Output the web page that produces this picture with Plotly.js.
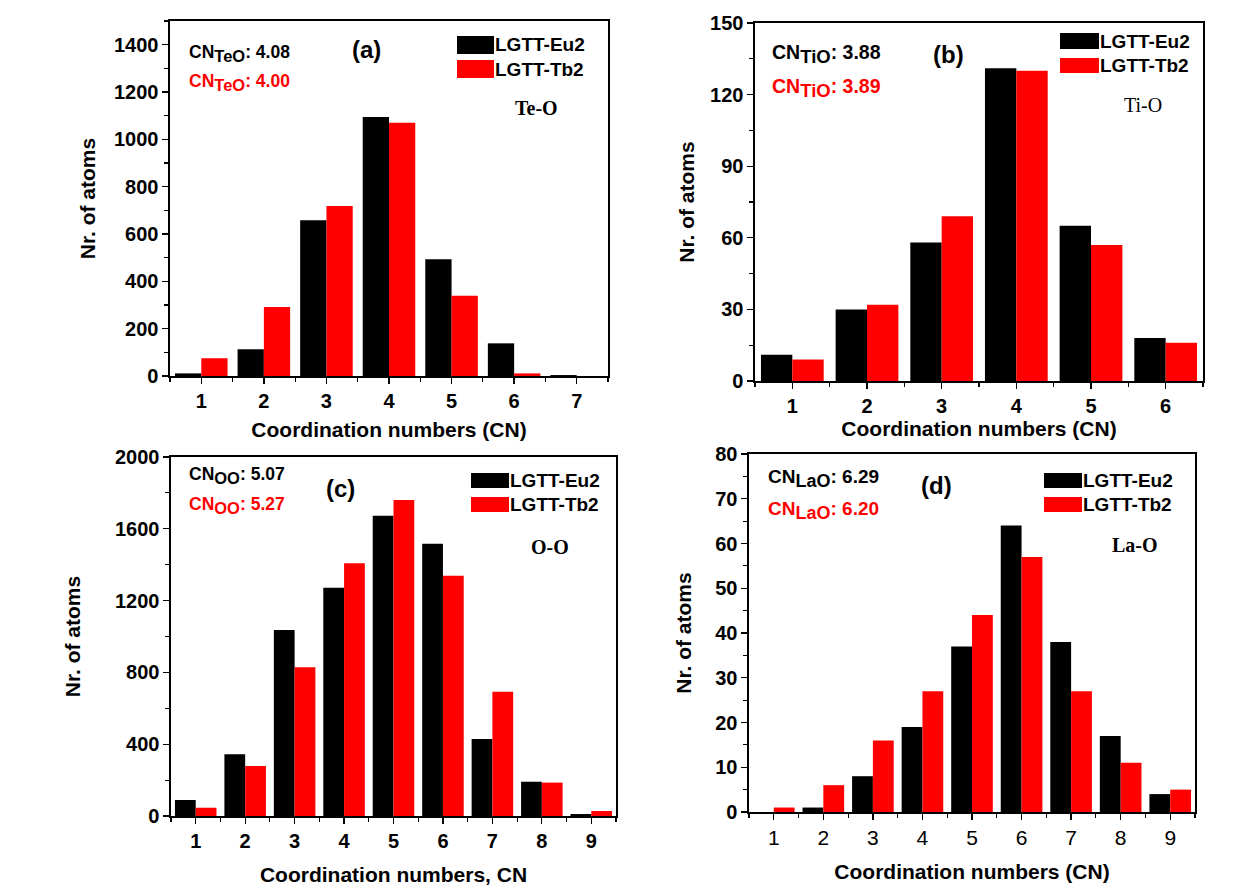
<!DOCTYPE html>
<html>
<head>
<meta charset="utf-8">
<script src="https://cdn.plot.ly/plotly-3.0.1.min.js"></script>
<style>html,body{margin:0;padding:0;background:#fff;}#chart{width:1248px;height:888px;}</style>
</head>
<body>
<div id="chart"></div>
<script>
// ---- data ----
const seriesNames = ["LGTT-Eu2", "LGTT-Tb2"];
const seriesColors = ["#000000", "#ff0000"];

const cnTeO = [1, 2, 3, 4, 5, 6, 7];
const teoEu2 = [11, 113, 658, 1094, 493, 138, 4];
const teoTb2 = [75, 292, 718, 1070, 339, 11, 0];

const cnTiO = [1, 2, 3, 4, 5, 6];
const tioEu2 = [11, 30, 58, 131, 65, 18];
const tioTb2 = [9, 32, 69, 130, 57, 16];

const cnOO = [1, 2, 3, 4, 5, 6, 7, 8, 9];
const ooEu2 = [89, 344, 1036, 1272, 1673, 1517, 429, 191, 11];
const ooTb2 = [46, 279, 828, 1408, 1760, 1339, 692, 186, 28];

const cnLaO = [1, 2, 3, 4, 5, 6, 7, 8, 9];
const laoEu2 = [0, 1, 8, 19, 37, 64, 38, 17, 4];
const laoTb2 = [1, 6, 16, 27, 44, 57, 27, 11, 5];

const panelLabels = ["(a)", "(b)", "(c)", "(d)"];
const pairLabels = ["Te-O", "Ti-O", "O-O", "La-O"];
const cnSub = ["TeO", "TiO", "OO", "LaO"];
const cnEu2 = ["4.08", "3.88", "5.07", "6.29"];
const cnTb2 = ["4.00", "3.89", "5.27", "6.20"];
const xTitles = ["Coordination numbers (CN)", "Coordination numbers (CN)", "Coordination numbers, CN", "Coordination numbers (CN)"];
const yTitle = "Nr. of atoms";

// ---- layout helpers ----
const W = 1248, H = 888;
const px = v => v / W;
const py = v => 1 - v / H;
const SANS = "Liberation Sans, Arial, sans-serif";
const SERIF = "Liberation Serif, Times New Roman, serif";

const panels = [
  {cat: cnTeO, a: teoEu2, b: teoTb2, xr: [0.5, 7.5], yr: [0, 1500], dt: 200,
   dom: {l: 170, r: 608, t: 21, b: 376}, xtf: {size: 20, w: "bold"}, ytf: 20,
   xstand: 12, ystand: 12,
   cn: {x: 188, y1: 53, y2: 83, size: 17.5, sub: 16.5}, lab: {x: 366, y: 50}, pair: {x: 536, y: 108, w: "bold"},
   leg: {x0: 457, x1: 494, y: [[36, 54], [60, 78]], size: 19}},
  {cat: cnTiO, a: tioEu2, b: tioTb2, xr: [0.5, 6.5], yr: [0, 150], dt: 30,
   dom: {l: 755, r: 1203, t: 23, b: 381}, xtf: {size: 20, w: "bold"}, ytf: 20,
   xstand: 6, ystand: 9,
   cn: {x: 771, y1: 54, y2: 88, size: 19.5, sub: 18.5}, lab: {x: 948, y: 54}, pair: {x: 1143, y: 105, w: "normal"},
   leg: {x0: 1060, x1: 1099, y: [[33, 49], [58, 73]], size: 19}},
  {cat: cnOO, a: ooEu2, b: ooTb2, xr: [0.5, 9.5], yr: [0, 2000], dt: 400,
   dom: {l: 171, r: 616, t: 457, b: 816}, xtf: {size: 20, w: "bold"}, ytf: 20,
   xstand: 17, ystand: 28,
   cn: {x: 188, y1: 476, y2: 506, size: 17.5, sub: 16.5}, lab: {x: 341, y: 488}, pair: {x: 550, y: 547, w: "bold"},
   leg: {x0: 471, x1: 509, y: [[473, 488], [497, 512]], size: 19}},
  {cat: cnLaO, a: laoEu2, b: laoTb2, xr: [0.5, 9.5], yr: [0, 80], dt: 10,
   dom: {l: 749, r: 1195, t: 454, b: 812}, xtf: {size: 21, w: "normal"}, ytf: 20,
   xstand: 16, ystand: 18,
   cn: {x: 767, y1: 478, y2: 511, size: 19, sub: 18}, lab: {x: 936, y: 485}, pair: {x: 1135, y: 545, w: "bold"},
   leg: {x0: 1044, x1: 1082, y: [[473, 488], [497, 512]], size: 19}}
];

const traces = [];
const layout = {
  width: W, height: H,
  margin: {l: 0, r: 0, t: 0, b: 0},
  paper_bgcolor: "#ffffff", plot_bgcolor: "#ffffff",
  showlegend: false,
  barmode: "group", bargap: 0.16, bargroupgap: 0,
  font: {family: SANS, color: "#000"},
  shapes: [], annotations: []
};

panels.forEach((p, i) => {
  const n = i === 0 ? "" : String(i + 1);
  const xa = "x" + n, ya = "y" + n;
  [p.a, p.b].forEach((vals, s) => {
    traces.push({
      type: "bar", x: p.cat, y: vals, name: seriesNames[s],
      xaxis: xa, yaxis: ya, offsetgroup: String(s),
      marker: {color: seriesColors[s], line: {width: 0}},
      hoverinfo: "x+y+name"
    });
  });
  layout["xaxis" + n] = {
    domain: [px(p.dom.l), px(p.dom.r)], anchor: ya, range: p.xr,
    tickmode: "linear", tick0: 1, dtick: 1,
    ticks: "outside", ticklen: 6, tickwidth: 1.3, tickcolor: "#000",
    minor: {tickmode: "linear", tick0: 0.5, dtick: 0.5, ticks: "outside", ticklen: 4, tickwidth: 1.1, tickcolor: "#000"},
    showline: true, linecolor: "#000", linewidth: 1.6, mirror: true,
    showgrid: false, zeroline: false, automargin: false, fixedrange: true,
    tickfont: {family: SANS, size: p.xtf.size, weight: p.xtf.w, color: "#000"},
    title: {text: xTitles[i], standoff: p.xstand, font: {family: SANS, size: 21, weight: "bold", color: "#000"}}
  };
  layout["yaxis" + n] = {
    domain: [py(p.dom.b), py(p.dom.t)], anchor: xa, range: p.yr,
    tickmode: "linear", tick0: 0, dtick: p.dt,
    ticks: "outside", ticklen: 6, tickwidth: 1.3, tickcolor: "#000",
    minor: {tickmode: "linear", tick0: 0, dtick: p.dt / 2, ticks: "outside", ticklen: 4, tickwidth: 1.1, tickcolor: "#000"},
    showline: true, linecolor: "#000", linewidth: 1.6, mirror: true,
    showgrid: false, zeroline: false, automargin: false, fixedrange: true,
    tickfont: {family: SANS, size: p.ytf, weight: "bold", color: "#000"},
    title: {text: yTitle, standoff: p.ystand, font: {family: SANS, size: 21, weight: "bold", color: "#000"}}
  };
  // legend swatches + text
  p.leg.y.forEach((yy, s) => {
    layout.shapes.push({type: "rect", xref: "paper", yref: "paper",
      x0: px(p.leg.x0), x1: px(p.leg.x1), y0: py(yy[1]), y1: py(yy[0]),
      fillcolor: seriesColors[s], line: {width: 0}});
    layout.annotations.push({xref: "paper", yref: "paper", x: px(p.leg.x1), y: py((yy[0] + yy[1]) / 2),
      xanchor: "left", yanchor: "middle", showarrow: false, text: seriesNames[s], borderpad: 0,
      font: {family: SANS, size: p.leg.size, weight: "bold", color: "#000"}});
  });
  // CN annotations
  const sz = v => "<span style=\"font-size:" + v + "px\">";
  [[p.cn.y1, cnEu2[i], seriesColors[0]], [p.cn.y2, cnTb2[i], seriesColors[1]]].forEach(d => {
    layout.annotations.push({xref: "paper", yref: "paper", x: px(p.cn.x), y: py(d[0]),
      xanchor: "left", yanchor: "middle", showarrow: false, borderpad: 0,
      text: sz(p.cn.size) + "CN</span><sub>" + sz(p.cn.sub) + cnSub[i] + "</span></sub>" + sz(p.cn.size) + ": " + d[1] + "</span>",
      font: {family: SANS, size: p.cn.size, weight: "bold", color: d[2]}});
  });
  layout.annotations.push({xref: "paper", yref: "paper", x: px(p.lab.x), y: py(p.lab.y),
    xanchor: "center", yanchor: "middle", showarrow: false, text: panelLabels[i],
    font: {family: SANS, size: 24, weight: "bold", color: "#000"}});
  layout.annotations.push({xref: "paper", yref: "paper", x: px(p.pair.x), y: py(p.pair.y),
    xanchor: "center", yanchor: "middle", showarrow: false, text: pairLabels[i],
    font: {family: SERIF, size: 20, weight: p.pair.w, color: "#000"}});
});

Plotly.newPlot("chart", traces, layout, {displayModeBar: false, staticPlot: true});
</script>
</body>
</html>
